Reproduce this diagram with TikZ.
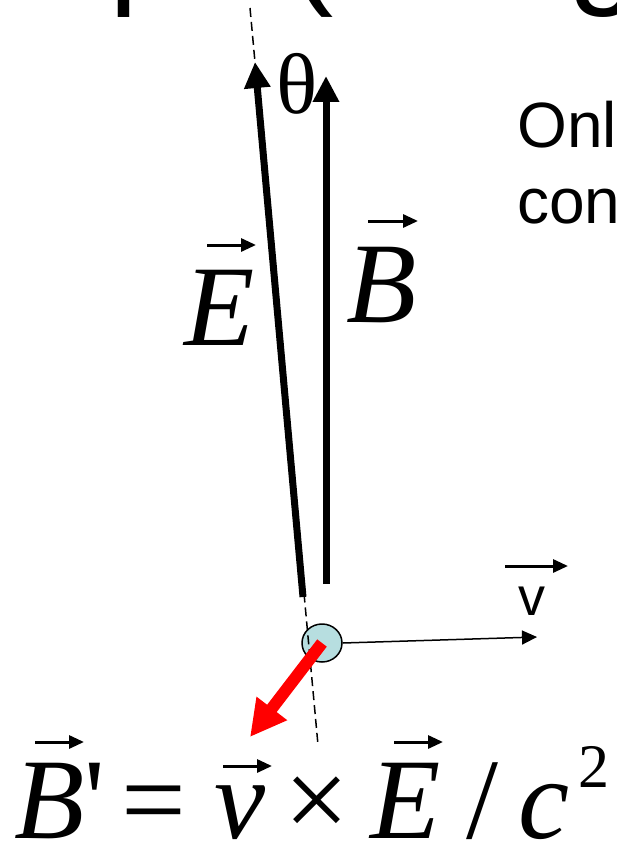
\documentclass[tikz,border=0pt]{standalone}
\usepackage{fontspec}
\setmainfont{Liberation Serif}
\newfontfamily\arialf{Liberation Sans}
\usetikzlibrary{arrows.meta,shapes.geometric}
\definecolor{particle}{RGB}{183,222,224}
\tikzset{
	lbl/.style={inner sep=0pt, anchor=base west},
	bigit/.style={font=\itshape\fontsize{115}{115}\selectfont},
	bigrm/.style={font=\fontsize{115}{115}\selectfont},
	field/.style={line width=7pt, -{Triangle[length=26pt,width=25pt]}},
	vecarr/.style={line width=3pt, -{Triangle[length=15pt,width=13pt]}},
}
\begin{document}
\begin{tikzpicture}[x=1pt,y=-1pt]
	
	\useasboundingbox (0,0) rectangle (616,845);
	\clip (0,0) rectangle (616,845);

% title and text cut off by the frame
\node[lbl, font=\arialf\fontsize{130}{130}\selectfont] (ttlp) at (109,-9) {p};
\node[lbl, font=\arialf\fontsize{130}{130}\selectfont] (ttlparen) at (290,-9) {(};
\node[lbl, font=\arialf\fontsize{130}{130}\selectfont] (ttlg) at (568,-9) {g};
\node[lbl, font=\arialf\fontsize{64}{64}\selectfont] (only) at (517,148) {Onl};
\node[lbl, font=\arialf\fontsize{64}{64}\selectfont] (con) at (517,223) {con};

% particle
\node[draw, ellipse, fill=particle, line width=1.5pt, minimum width=40pt, minimum height=38pt, inner sep=0pt] (q) at (322,643) {};

% the dashed line of E
\coordinate (dtop) at (250,8);
\coordinate (dbot) at (318,745);
\draw[line width=1.5pt, dash pattern=on 9pt off 5pt] (dtop) -- (dbot);

% E and B
\coordinate (Etail) at (303,597);
\coordinate (Etip) at (255,62);
\coordinate (Btail) at (326,584);
\coordinate (Btip) at (326,76);
\draw[field] (Etail) -- (Etip);
\draw[field] (Btail) -- (Btip);

\node[lbl, font=\fontsize{86}{86}\selectfont] (theta) at (276,114) {θ};

\node[lbl, bigit] (lblE) at (184,345) {E};
\draw[vecarr] (207,245) -- (256,245);
\node[lbl, bigit] (lblB) at (346,322) {B};
\draw[vecarr] (368,221) -- (418,221);

% velocity
\coordinate (vtip) at (537,637);
\draw[line width=1.5pt, -{Triangle[length=15pt,width=14pt]}] (q.east) -- (vtip);
\node[lbl, font=\arialf\fontsize{54}{54}\selectfont] (lblv) at (518,615) {v};
\draw[vecarr] (505,566) -- (568,566);

% B' in red
\coordinate (Bptip) at (250,737);
\draw[red, line width=12pt, -{Triangle[length=36pt,width=36pt]}] (q.center) -- (Bptip);

% B' = v x E / c^2
\node[lbl, bigit] (eqB) at (14,838) {B};
\node[lbl, bigrm] (eqprime) at (84,838) {\textquotesingle};
\node[lbl, bigrm] (eqeq) at (121,838) {=};
\node[lbl, bigit] (eqv) at (214,838) {v};
\node[lbl, bigrm] (eqx) at (284,838) {×};
\node[lbl, bigit] (eqE) at (370,838) {E};
\node[lbl, bigrm] (eqsl) at (466,838) {/};
\node[lbl, bigit] (eqc) at (518,838) {c};
\node[lbl, font=\fontsize{62}{62}\selectfont] (eqtwo) at (578,787) {2};
\draw[vecarr] (35,742) -- (84,742);
\draw[vecarr] (223,766) -- (272,766);
\draw[vecarr] (394,742) -- (443,742);

	\end{tikzpicture}
\end{document}
